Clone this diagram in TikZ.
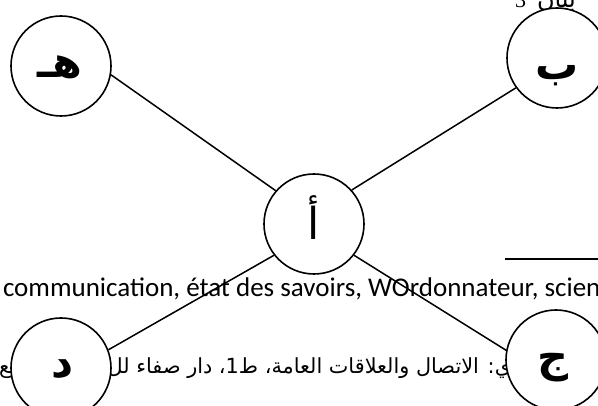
\documentclass[tikz,border=0pt]{standalone}
\usepackage{fontspec}
\TeXXeTstate=1
\newfontfamily\arabicfont[Script=Arabic]{DejaVu Sans}
\newfontfamily\latinfont{Carlito}
\newfontfamily\serifnum{Liberation Serif}
\begin{document}
\begin{tikzpicture}[x=1pt,y=-1pt,
  circ/.style={circle,draw,fill=white,line width=1.6pt,minimum size=100pt,inner sep=0pt},
  link/.style={line width=1.5pt},
  bgtext/.style={inner sep=0pt,outer sep=0pt},
  letter/.style={inner sep=0pt,anchor=base,font=\arabicfont\bfseries\fontsize{43}{46}\selectfont}]
\useasboundingbox (0,0) rectangle (598,406);
\clip (0,0) rectangle (598,406);
% background texts
\node[bgtext,anchor=base west] (top3) at (515,8) {\serifnum\fontsize{22}{24}\selectfont 3};
\node[bgtext,anchor=base west] (toptxt) at (537,8) {\arabicfont\fontsize{24}{26}\selectfont\beginR بيان\endR};
\node[bgtext,anchor=base west] (lat) at (3,297) {\latinfont\fontsize{27}{30}\selectfont communication, état des savoirs, WOrdonnateur, scien};
\node[bgtext,anchor=base east] (ar) at (511,374) {\arabicfont\fontsize{20.8}{24}\selectfont\beginR ي: الاتصال والعلاقات العامة، ط1، دار صفاء لل\endR};
\node[bgtext,anchor=base east] (ar2) at (16,374) {\arabicfont\fontsize{20.8}{24}\selectfont\beginR يع\endR};
\coordinate (hl1) at (505,259);
\coordinate (hl2) at (598,259);
\draw[line width=2pt] (hl1) -- (hl2);
% circles
\node[circ] (E) at (61,66) {};
\node[circ] (B) at (557,58) {};
\node[circ] (A) at (314,224) {};
\node[circ] (D) at (61,368) {};
\node[circ] (J) at (556,360) {};
\node[letter] (lE) at (60,78) {\beginR هـ\endR};
\node[letter] (lB) at (557,80) {\beginR ب\endR};
\node[letter,font=\arabicfont\fontsize{44}{48}\selectfont] (lA) at (314,240) {\beginR أ\endR};
\node[letter] (lD) at (63,378) {\beginR د\endR};
\node[letter] (lJ) at (553,372) {\beginR ج\endR};
% connectors
\draw[link] (E.-10) -- (A.139);
\draw[link] (B.216) -- (A.42);
\draw[link] (A.218) -- (D.21);
\draw[link] (A.-38) -- (J.169);
\end{tikzpicture}
\end{document}
